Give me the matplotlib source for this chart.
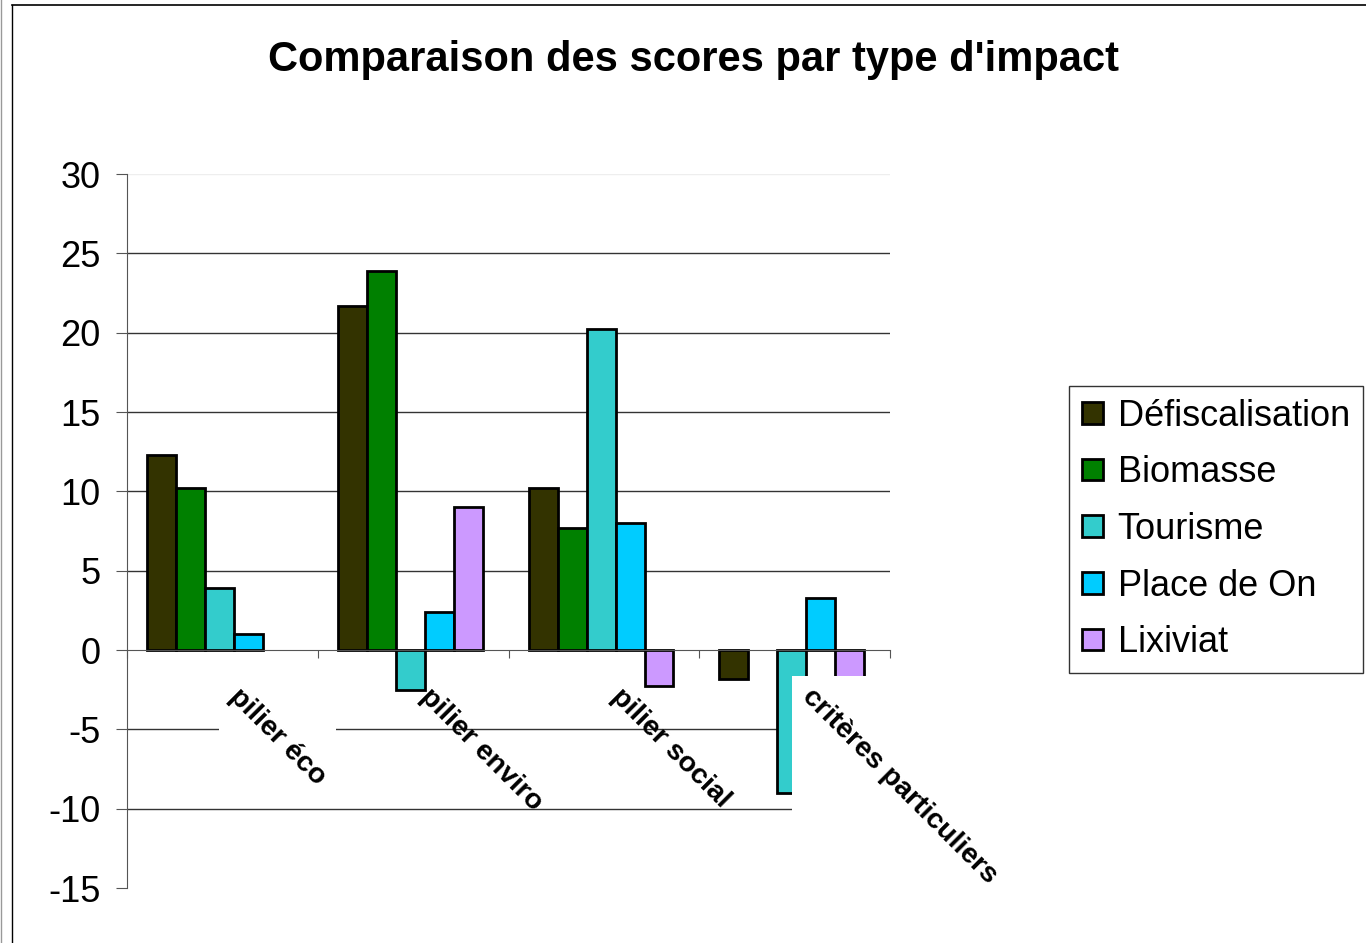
import numpy as np
import matplotlib
matplotlib.use('Agg')
import matplotlib.pyplot as plt
from matplotlib.patches import Rectangle
from matplotlib.lines import Line2D

plt.rcParams['font.family'] = ['Liberation Sans', 'DejaVu Sans']
plt.rcParams['axes.unicode_minus'] = False

# data (nan = no bar)
categories = ['pilier éco', 'pilier enviro', 'pilier social', 'critères particuliers']
series = ['Défiscalisation', 'Biomasse', 'Tourisme', 'Place de On', 'Lixiviat']
defiscalisation = [12.3, 21.7, 10.2, -1.8]
biomasse = [10.2, 23.9, 7.7, np.nan]
tourisme = [3.9, -2.5, 20.2, -9.0]
place_de_on = [1.0, 2.4, 8.0, 3.3]
lixiviat = [np.nan, 9.0, -2.3, -2.0]
colors = ['#333300', '#008000', '#33CCCC', '#00CCFF', '#CC99FF']

values = [defiscalisation, biomasse, tourisme, place_de_on, lixiviat]

fig = plt.figure(figsize=(13.66, 9.43), dpi=100)
ax = fig.add_axes([127/1366, 1-888/943, 763/1366, 714/943])

x = np.arange(len(categories))
w = 0.152
for j, (vals, name, c) in enumerate(zip(values, series, colors)):
    ax.bar(x + (j-2)*w - 0.015, vals, w, color=c, edgecolor='black', linewidth=2,
           label=name, zorder=3)

ax.set_xlim(-0.5, 3.5)
ax.set_ylim(-15, 30)
ax.set_yticks(np.arange(-15, 31, 5))
for v in [-10, -5, 5, 10, 15, 20, 25]:
    ax.axhline(v, color='#333333', lw=1, zorder=1)
ax.axhline(30, color='#eeeeee', lw=1, zorder=1)

ax.spines['top'].set_visible(False)
ax.spines['right'].set_visible(False)
ax.spines['bottom'].set_position(('data', 0))
ax.spines['bottom'].set_color('#555555')
ax.spines['left'].set_color('#555555')
ax.spines['bottom'].set_zorder(4)
ax.set_xticks(np.arange(-0.5, 3.6, 1))
ax.set_xticklabels([])
ax.tick_params(axis='x', direction='out', length=6, color='#555555')
ax.tick_params(axis='y', direction='out', length=8, color='#555555', labelsize=26, pad=11)

fig.text(694/1366, 1-60/943, "Comparaison des scores par type d'impact",
         ha='center', va='center', fontsize=30, fontweight='bold')

# category labels, rotated like the original
labs = []
for i, cat in enumerate(categories):
    t = ax.annotate(cat, xy=(i, 0), xytext=(8, -31), textcoords='offset points',
                    rotation=-45, rotation_mode='anchor', ha='left', va='center',
                    fontsize=20.5, fontweight='bold', annotation_clip=False, zorder=6)
    labs.append(t)

fig.canvas.draw()
inv = ax.transData.inverted()
for i in [0, 3]:
    bb = labs[i].get_window_extent()
    (x0, y0) = inv.transform((bb.x0 - 5, bb.y0 - 5))
    (x1, y1) = inv.transform((bb.x1 + 5, bb.y1 + 8))
    ax.add_patch(Rectangle((x0, y0), x1-x0, y1-y0, facecolor='white', edgecolor='none',
                           clip_on=False, zorder=5))

leg = fig.legend(loc='upper left', bbox_to_anchor=(1069/1366, 1-386/943), fontsize=26,
                 frameon=True, fancybox=False, edgecolor='black', borderaxespad=0,
                 handlelength=0.6, handleheight=0.55, handletextpad=0.4,
                 labelspacing=0.6, borderpad=0.35)
leg.get_frame().set_linewidth(1)
for p in leg.get_patches():
    p.set_linewidth(2)

# chart-area border
fig.add_artist(Line2D([12/1366, 12/1366], [0, 1-5/943], color='black', lw=1, transform=fig.transFigure))
fig.add_artist(Line2D([12/1366, 1], [1-5/943, 1-5/943], color='black', lw=1.2, transform=fig.transFigure))
fig.add_artist(Line2D([1/1366, 1/1366], [0, 1], color='#999999', lw=1, transform=fig.transFigure))

fig.savefig('out.png', dpi=100)
